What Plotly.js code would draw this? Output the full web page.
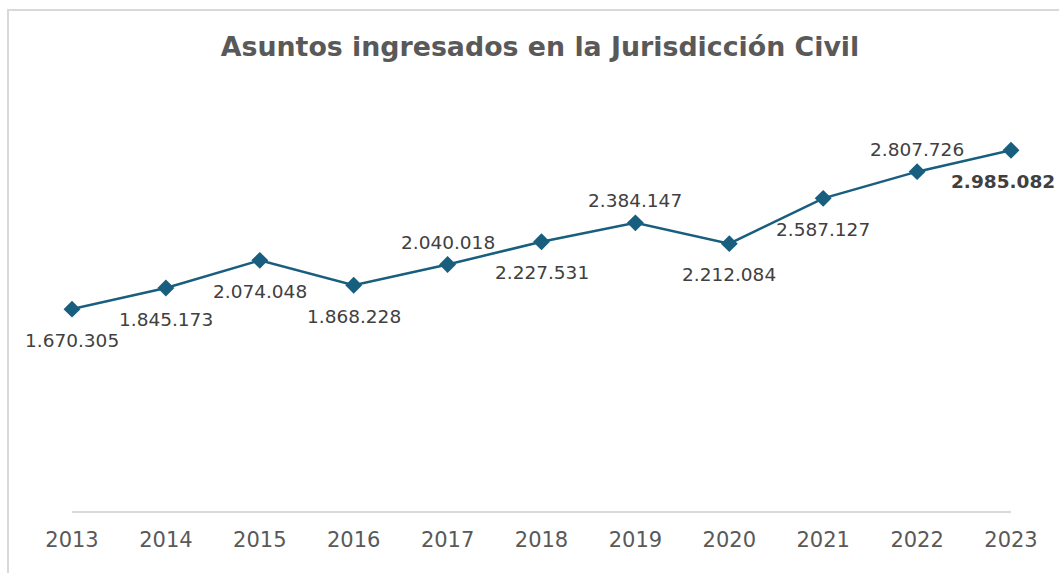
<!DOCTYPE html>
<html>
<head>
<meta charset="utf-8">
<script src="https://cdn.plot.ly/plotly-3.0.1.min.js"></script>
<style>
html,body{margin:0;padding:0;background:#fff;}
#chart{width:1059px;height:573px;}
</style>
</head>
<body>
<div id="chart"></div>
<script>
const years = ['2013','2014','2015','2016','2017','2018','2019','2020','2021','2022','2023'];
const asuntos = [1670305, 1845173, 2074048, 1868228, 2040018, 2227531, 2384147, 2212084, 2587127, 2807726, 2985082];
const labelSide = ['below','below','below','below','above','below','above','below','below','above','below'];

function fmt(v){ return String(v).replace(/\B(?=(\d{3})+(?!\d))/g, '.'); }

const lineColor = '#185e7e';

const trace = {
  x: years, y: asuntos, type: 'scatter', mode: 'lines+markers',
  line: {color: lineColor, width: 2.5},
  marker: {symbol: 'diamond', size: 13, color: lineColor},
  hoverinfo: 'x+y', cliponaxis: false
};

const annotations = years.map((yr, i) => {
  const last = i === years.length - 1;
  return {
    x: i, y: asuntos[i], xref: 'x', yref: 'y',
    text: last ? '<b>' + fmt(asuntos[i]) + '</b>' : fmt(asuntos[i]),
    showarrow: false,
    xshift: last ? -8 : 0,
    yshift: labelSide[i] === 'above' ? 22 : -31,
    font: {family: 'DejaVu Sans, Verdana, sans-serif', size: 18.5, color: '#404040'}
  };
});

const L = 72, R = 1011, T = 88, B = 511;
const pw = R - L, ph = B - T;
const px = v => (v - L) / pw;
const py = v => (B - v) / ph;

const layout = {
  width: 1059, height: 573,
  margin: {l: L, r: 1059 - R, t: T, b: 573 - B, pad: 0},
  paper_bgcolor: '#ffffff', plot_bgcolor: '#ffffff',
  showlegend: false,
  title: {
    text: '<b>Asuntos ingresados en la Jurisdicción Civil</b>',
    x: px(540), xanchor: 'center', y: 1 - 47/573, yanchor: 'middle', xref: 'paper',
    font: {family: 'DejaVu Sans, Verdana, sans-serif', size: 26.8, color: '#595959'}
  },
  xaxis: {
    type: 'category', range: [0, 10], showgrid: false, zeroline: false,
    showline: true, linecolor: '#d9d9d9', linewidth: 1.5,
    ticks: '', ticklabelstandoff: 9,
    tickfont: {family: 'DejaVu Sans, Verdana, sans-serif', size: 21, color: '#595959'},
    fixedrange: true
  },
  yaxis: {
    range: [0, 3500000], showticklabels: false, showline: false, ticks: '',
    showgrid: false, zeroline: false, fixedrange: true
  },
  annotations: annotations,
  shapes: [{
    type: 'rect', xref: 'paper', yref: 'paper',
    x0: px(8), x1: px(1200), y0: py(700), y1: py(10),
    line: {color: '#d9d9d9', width: 2}, fillcolor: 'rgba(0,0,0,0)', layer: 'below'
  }]
};

Plotly.newPlot('chart', [trace], layout, {displayModeBar: false, staticPlot: true});
</script>
</body>
</html>
